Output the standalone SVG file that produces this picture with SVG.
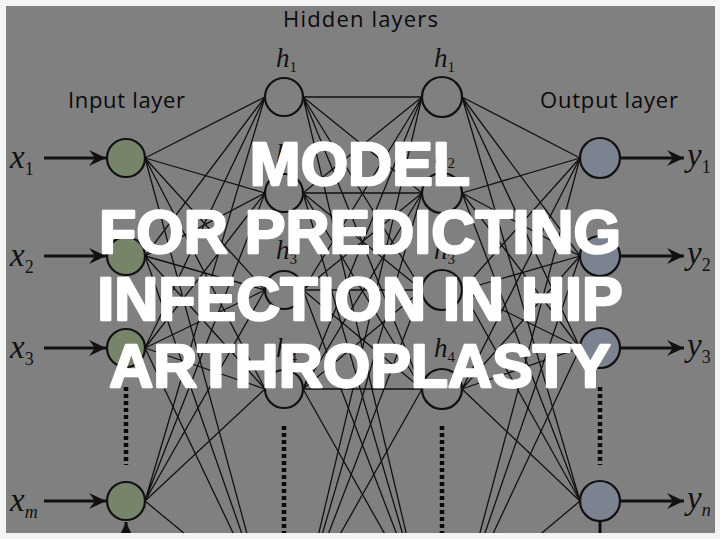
<svg xmlns="http://www.w3.org/2000/svg" width="720" height="539" viewBox="0 0 720 539">
<style>
.bg{fill:#f4f4f4}
.panel{fill:#808080}
.conn path{fill:none;stroke:#111;stroke-width:1.3}
.node circle{stroke:#111;stroke-width:2.2}
.in circle{fill:#768469}
.hid circle{fill:none}
.out circle{fill:#7b8391}
.lbl{font-family:"Open Sans","Noto Sans",sans-serif;font-size:22px;fill:#0a0a0a}
.math{font-family:"Liberation Serif","DejaVu Serif",serif;font-style:italic;fill:#111}
.sub{font-style:normal}
.arr{stroke:#111;stroke-width:3;fill:none}
.conn path.dots{stroke:#0a0a0a;stroke-width:4.5;stroke-dasharray:4 3;fill:none}
.title{font-family:"Liberation Sans",Arial,sans-serif;font-weight:bold;font-size:61px;fill:#fff;stroke:#fff;stroke-width:2.4;stroke-linejoin:round;text-anchor:middle}
</style>
<defs>
<clipPath id="pc"><rect x="6" y="6" width="709" height="527"/></clipPath>
<marker id="ah" viewBox="-17 -8 17 16" refX="0" refY="0" markerWidth="17" markerHeight="16" markerUnits="userSpaceOnUse" orient="auto"><path d="M0 0L-17 -8L-11 0L-17 8Z" fill="#111"/></marker>
</defs>
<rect class="bg" x="0" y="0" width="720" height="539"/>
<rect class="panel" x="6" y="6" width="709" height="527"/>
<g clip-path="url(#pc)">
<g id="connectors" class="conn">
<path d="M145 158L265 97M145 158L265 193M145 158L265 290M145 158L265 389M145 158L265 600"/>
<path d="M145 256L265 97M145 256L265 193M145 256L265 290M145 256L265 389M145 256L265 600"/>
<path d="M145 348L265 97M145 348L265 193M145 348L265 290M145 348L265 389M145 348L265 600"/>
<path d="M145 501L265 97M145 501L265 193M145 501L265 290M145 501L265 389M145 501L265 600"/>
<path d="M303 97L422 97M303 97L422 193M303 97L422 290M303 97L422 389M303 97L422 600"/>
<path d="M303 193L422 97M303 193L422 193M303 193L422 290M303 193L422 389M303 193L422 600"/>
<path d="M303 290L422 97M303 290L422 193M303 290L422 290M303 290L422 389M303 290L422 600"/>
<path d="M303 389L422 97M303 389L422 193M303 389L422 290M303 389L422 389M303 389L422 600"/>
<path d="M303 600L422 97M303 600L422 193M303 600L422 290M303 600L422 389M303 600L422 600"/>
<path d="M462 97L580 158M462 97L580 256M462 97L580 348M462 97L580 501"/>
<path d="M462 193L580 158M462 193L580 256M462 193L580 348M462 193L580 501"/>
<path d="M462 290L580 158M462 290L580 256M462 290L580 348M462 290L580 501"/>
<path d="M462 389L580 158M462 389L580 256M462 389L580 348M462 389L580 501"/>
<path d="M462 600L580 158M462 600L580 256M462 600L580 348M462 600L580 501"/>
<line class="arr" x1="44" y1="158" x2="106" y2="158" marker-end="url(#ah)"/>
<line class="arr" x1="44" y1="256" x2="106" y2="256" marker-end="url(#ah)"/>
<line class="arr" x1="44" y1="348" x2="106" y2="348" marker-end="url(#ah)"/>
<line class="arr" x1="44" y1="501" x2="106" y2="501" marker-end="url(#ah)"/>
<line class="arr" x1="620" y1="158" x2="684" y2="158" marker-end="url(#ah)"/>
<line class="arr" x1="620" y1="256" x2="684" y2="256" marker-end="url(#ah)"/>
<line class="arr" x1="620" y1="348" x2="684" y2="348" marker-end="url(#ah)"/>
<line class="arr" x1="620" y1="501" x2="684" y2="501" marker-end="url(#ah)"/>
<line class="arr" x1="126" y1="560" x2="126" y2="522" marker-end="url(#ah)"/>
<line class="arr" x1="600" y1="521" x2="600" y2="540"/>
<path class="dots" d="M126 387V465M600 387V465M284 426V540M442 426V540"/>
</g>
<g id="input-nodes" class="node in">
<g id="x1"><circle cx="126" cy="158" r="19"/></g>
<g id="x2"><circle cx="126" cy="256" r="19"/></g>
<g id="x3"><circle cx="126" cy="348" r="19"/></g>
<g id="xm"><circle cx="126" cy="501" r="19"/></g>
</g>
<g id="hidden1-nodes" class="node hid">
<g id="h1a"><circle cx="284" cy="97" r="19"/></g>
<g id="h2a"><circle cx="284" cy="193" r="19"/></g>
<g id="h3a"><circle cx="284" cy="290" r="19"/></g>
<g id="h4a"><circle cx="284" cy="389" r="19"/></g>
</g>
<g id="hidden2-nodes" class="node hid">
<g id="h1b"><circle cx="442" cy="97" r="20"/></g>
<g id="h2b"><circle cx="442" cy="193" r="20"/></g>
<g id="h3b"><circle cx="442" cy="290" r="20"/></g>
<g id="h4b"><circle cx="442" cy="389" r="20"/></g>
</g>
<g id="output-nodes" class="node out">
<g id="y1"><circle cx="600" cy="158" r="20"/></g>
<g id="y2"><circle cx="600" cy="256" r="20"/></g>
<g id="y3"><circle cx="600" cy="348" r="20"/></g>
<g id="yn"><circle cx="600" cy="501" r="20"/></g>
</g>
</g>
<g id="labels">
<text class="lbl" x="283" y="27" textLength="155">Hidden layers</text>
<text class="lbl" x="68" y="108" textLength="117">Input layer</text>
<text class="lbl" x="540" y="108" textLength="138">Output layer</text>
<g class="math" font-size="27">
<text x="276" y="67">h<tspan class="sub" font-size="15" dy="5">1</tspan></text>
<text x="434" y="67">h<tspan class="sub" font-size="15" dy="5">1</tspan></text>
<text x="276" y="163">h<tspan class="sub" font-size="15" dy="5">2</tspan></text>
<text x="434" y="163">h<tspan class="sub" font-size="15" dy="5">2</tspan></text>
<text x="276" y="259">h<tspan class="sub" font-size="15" dy="5">3</tspan></text>
<text x="434" y="259">h<tspan class="sub" font-size="15" dy="5">3</tspan></text>
<text x="276" y="357">h<tspan class="sub" font-size="15" dy="5">4</tspan></text>
<text x="434" y="357">h<tspan class="sub" font-size="15" dy="5">4</tspan></text>
</g>
<g class="math" font-size="33">
<text x="10" y="168">x<tspan class="sub" font-size="18" dy="7">1</tspan></text>
<text x="10" y="266">x<tspan class="sub" font-size="18" dy="7">2</tspan></text>
<text x="10" y="358">x<tspan class="sub" font-size="18" dy="7">3</tspan></text>
<text x="10" y="511">x<tspan font-size="18" dy="7">m</tspan></text>
<text x="687" y="166">y<tspan class="sub" font-size="18" dy="7">1</tspan></text>
<text x="687" y="264">y<tspan class="sub" font-size="18" dy="7">2</tspan></text>
<text x="687" y="356">y<tspan class="sub" font-size="18" dy="7">3</tspan></text>
<text x="687" y="509">y<tspan font-size="18" dy="7">n</tspan></text>
</g>
</g>
<g id="title">
<text class="title" x="360" y="185">MODEL</text>
<text class="title" x="360" y="253">FOR PREDICTING</text>
<text class="title" x="360" y="320">INFECTION IN HIP</text>
<text class="title" x="360" y="387">ARTHROPLASTY</text>
</g>
</svg>
